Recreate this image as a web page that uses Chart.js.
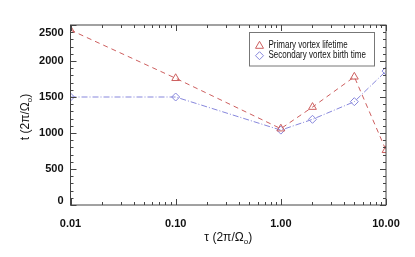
<!DOCTYPE html>
<html><head><meta charset="utf-8">
<script src="https://cdn.jsdelivr.net/npm/chart.js@4/dist/chart.umd.min.js"></script>
<style>html,body{margin:0;padding:0;background:#fff;}#wrap{width:415px;height:257px;}</style>
</head><body><div id="wrap"><canvas id="c" width="415" height="257"></canvas></div>
<script>
const tau = [0.01, 0.1, 1, 2, 5, 10];
const primaryLifetime = [2430, 1760, 1060, 1360, 1780, 760];
const secondaryBirth = [1500, 1500, 1040, 1190, 1435, 1860];
const xTickLabels = [0.01, 0.1, 1, 10];
const yTickLabels = [0, 500, 1000, 1500, 2000, 2500];
const seriesNames = ['Primary vortex lifetime', 'Secondary vortex birth time'];

const RED = 'rgb(205,95,95)';
const BLUE = 'rgb(135,135,220)';
const AXIS = '#444';
const FONT = 'Liberation Sans, Arial, Helvetica, sans-serif';

const framePlugin = {
  id: 'frame',
  afterDraw(chart) {
    const {ctx, chartArea: a, scales: {x, y}} = chart;
    ctx.save();
    ctx.strokeStyle = AXIS;
    ctx.lineWidth = 1;
    ctx.strokeRect(a.left, a.top, a.right - a.left, a.bottom - a.top);
    ctx.beginPath();
    for (let v = 0; v <= 2500; v += 100) {
      const py = Math.round(y.getPixelForValue(v)) + 0.5;
      const len = v % 500 === 0 ? 6 : 3;
      ctx.moveTo(a.left, py); ctx.lineTo(a.left + len, py);
      ctx.moveTo(a.right, py); ctx.lineTo(a.right - len, py);
    }
    for (let d = 0.01; d < 10.5; d *= 10) {
      for (let m = 1; m <= 9; m++) {
        const v = d * m;
        if (v > 10.001) break;
        const px = Math.round(x.getPixelForValue(v)) + 0.5;
        const len = m === 1 ? 6 : 3;
        ctx.moveTo(px, a.bottom); ctx.lineTo(px, a.bottom - len);
        ctx.moveTo(px, a.top); ctx.lineTo(px, a.top + len);
      }
    }
    ctx.stroke();

    ctx.fillStyle = '#111';
    ctx.font = 'bold 11px ' + FONT;
    ctx.textAlign = 'right';
    ctx.textBaseline = 'middle';
    yTickLabels.forEach(v => {
      let py = y.getPixelForValue(v);
      py = Math.min(Math.max(py, a.top + 7.5), a.bottom - 4.5);
      ctx.fillText(String(v), a.left - 7, py);
    });

    function drawTitle(main, sub, tail, size) {
      ctx.font = size + 'px ' + FONT;
      const subSize = Math.round(size * 0.7);
      const w1 = ctx.measureText(main).width;
      ctx.font = subSize + 'px ' + FONT;
      const w2 = ctx.measureText(sub).width;
      ctx.font = size + 'px ' + FONT;
      const w3 = ctx.measureText(tail).width;
      const total = w1 + w2 + w3;
      let cx = -total / 2;
      ctx.textAlign = 'left';
      ctx.textBaseline = 'middle';
      ctx.fillStyle = '#111';
      ctx.fillText(main, cx, 0);
      ctx.font = subSize + 'px ' + FONT;
      ctx.fillText(sub, cx + w1, size * 0.35);
      ctx.font = size + 'px ' + FONT;
      ctx.fillText(tail, cx + w1 + w2, 0);
    }
    ctx.save();
    ctx.translate((a.left + a.right) / 2, 238);
    drawTitle('\u03C4 (2\u03C0/\u03A9', 'o', ')', 12);
    ctx.restore();
    ctx.save();
    ctx.translate(26, (a.top + a.bottom) / 2 + 2);
    ctx.rotate(-Math.PI / 2);
    drawTitle('t (2\u03C0/\u03A9', 'o', ')', 12);
    ctx.restore();

    const lx = 249.5, ly = 32.5, lw = 125, lh = 33.5;
    ctx.fillStyle = '#fff';
    ctx.fillRect(lx, ly, lw, lh);
    ctx.strokeStyle = '#777';
    ctx.strokeRect(lx, ly, lw, lh);
    const rows = [45.3, 55.7];
    chart.data.datasets.forEach((ds, i) => {
      const yy = rows[i];
      ctx.strokeStyle = ds.pointBorderColor;
      ctx.lineWidth = 1;
      ctx.beginPath();
      if (ds.pointStyle === 'triangle') {
        ctx.moveTo(259.5, yy - 4); ctx.lineTo(263.5, yy + 3); ctx.lineTo(255.5, yy + 3); ctx.closePath();
      } else {
        ctx.moveTo(259.5, yy - 4); ctx.lineTo(263.5, yy); ctx.lineTo(259.5, yy + 4); ctx.lineTo(255.5, yy); ctx.closePath();
      }
      ctx.stroke();
      ctx.save();
      ctx.translate(268.5, yy);
      ctx.scale(0.8, 1);
      ctx.fillStyle = '#111';
      ctx.font = '10px ' + FONT;
      ctx.textAlign = 'left';
      ctx.textBaseline = 'middle';
      ctx.fillText(ds.label, 0, 0);
      ctx.restore();
    });
    ctx.restore();
  }
};

new Chart(document.getElementById('c'), {
  type: 'line',
  data: {
    labels: tau,
    datasets: [
      {
        label: seriesNames[0],
        data: tau.map((t, i) => ({x: t, y: primaryLifetime[i]})),
        borderColor: RED, borderWidth: 1, borderDash: [5, 4],
        pointStyle: 'triangle', pointRadius: 4.5, pointBorderColor: RED,
        pointBackgroundColor: 'rgba(0,0,0,0)', pointBorderWidth: 1, tension: 0
      },
      {
        label: seriesNames[1],
        data: tau.map((t, i) => ({x: t, y: secondaryBirth[i]})),
        borderColor: BLUE, borderWidth: 1, borderDash: [6, 2, 1, 2],
        pointStyle: 'rectRot', pointRadius: 4, pointBorderColor: BLUE,
        pointBackgroundColor: 'rgba(0,0,0,0)', pointBorderWidth: 1, tension: 0
      }
    ]
  },
  options: {
    responsive: false, animation: false, devicePixelRatio: 1,
    layout: {padding: {left: 0, right: 29, top: 25, bottom: 0}},
    plugins: {legend: {display: false}, tooltip: {enabled: false}},
    scales: {
      x: {
        type: 'logarithmic', min: 0.01, max: 10,
        grid: {display: false, drawTicks: false},
        border: {display: false},
        afterBuildTicks(s) { s.ticks = xTickLabels.map(v => ({value: v})); },
        afterFit(s) { s.height = 52; },
        ticks: {
          padding: 12, color: '#111', maxRotation: 0, autoSkip: false,
          font: {family: FONT, size: 11, weight: 'bold'},
          callback: v => Number(v).toFixed(2)
        }
      },
      y: {
        type: 'linear', min: 0, max: 2500,
        grid: {display: false, drawTicks: false},
        border: {display: false},
        afterBuildTicks(s) { s.ticks = yTickLabels.map(v => ({value: v})); },
        afterFit(s) { s.width = 70.5; },
        ticks: { display: false }
      }
    }
  },
  plugins: [framePlugin]
});
</script></body></html>
